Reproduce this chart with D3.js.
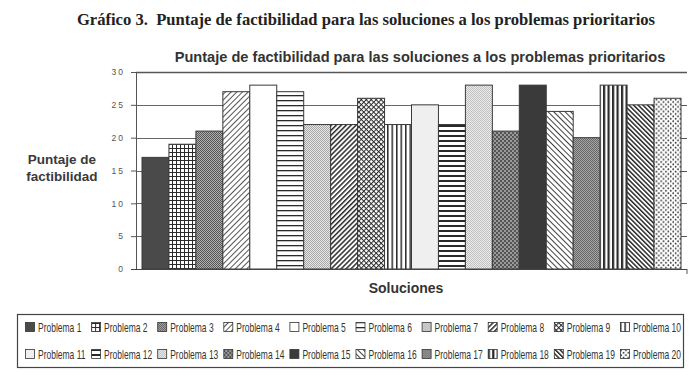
<!DOCTYPE html>
<html>
<head>
<meta charset="utf-8">
<script src="https://cdn.jsdelivr.net/npm/d3@7"></script>
<style>
  body { margin: 0; background: #fff; }
  svg { display: block; }
</style>
</head>
<body>
<svg id="chart" width="697" height="379"></svg>
<script>
const problemas = [
  "Problema 1", "Problema 2", "Problema 3", "Problema 4", "Problema 5",
  "Problema 6", "Problema 7", "Problema 8", "Problema 9", "Problema 10",
  "Problema 11", "Problema 12", "Problema 13", "Problema 14", "Problema 15",
  "Problema 16", "Problema 17", "Problema 18", "Problema 19", "Problema 20",
];
const puntajes = [17, 19, 21, 27, 28, 27, 22, 22, 26, 22, 25, 22, 28, 21, 28, 24, 20, 28, 25, 26];
const yTicks = [0, 5, 10, 15, 20, 25, 30];

const titulo = "Gráfico 3.  Puntaje de factibilidad para las soluciones a los problemas prioritarios";
const subtitulo = "Puntaje de factibilidad para las soluciones a los problemas prioritarios";
const ejeY = ["Puntaje de", "factibilidad"];
const ejeX = "Soluciones";

const svg = d3.select("#chart");
const defs = svg.append("defs");
const ink = "#2a2a2a";

// fill patterns, one per problem (index order)
function pattern(id, w, h, bg, rot) {
  const p = defs.append("pattern")
    .attr("id", id)
    .attr("patternUnits", "userSpaceOnUse")
    .attr("width", w)
    .attr("height", h);
  if (rot) p.attr("patternTransform", `rotate(${rot})`);
  p.append("rect").attr("width", w).attr("height", h).attr("fill", bg);
  return p;
}
function solid(id, c) {
  pattern(id, 4, 4, c);
}
function checker(id, size, a, b) {
  const p = pattern(id, size * 2, size * 2, b);
  p.append("rect").attr("width", size).attr("height", size).attr("fill", a);
  p.append("rect").attr("x", size).attr("y", size).attr("width", size).attr("height", size).attr("fill", a);
}
function lines(id, gap, width, rot) {
  // vertical stripes, rotated as needed
  const p = pattern(id, gap, gap, "#fff", rot);
  p.append("rect").attr("width", width).attr("height", gap).attr("fill", ink);
}
function hlines(id, gap, width) {
  const p = pattern(id, gap, gap, "#fff");
  p.append("rect").attr("width", gap).attr("height", width).attr("fill", ink);
}
function grid(id, gap, width, rot) {
  const p = pattern(id, gap, gap, "#fff", rot);
  p.append("rect").attr("width", width).attr("height", gap).attr("fill", ink);
  p.append("rect").attr("width", gap).attr("height", width).attr("fill", ink);
}
function dots(id, gap, r) {
  const p = pattern(id, gap * 2, gap * 2, "#fff");
  p.append("circle").attr("cx", gap / 2).attr("cy", gap / 2).attr("r", r).attr("fill", ink);
  p.append("circle").attr("cx", gap * 1.5).attr("cy", gap * 1.5).attr("r", r).attr("fill", ink);
}

solid("p1", "#4a4a4a");
grid("p2", 4, 1, 0);
checker("p3", 1, "#555", "#b0b0b0");
lines("p4", 4, 0.8, 45);
solid("p5", "#ffffff");
hlines("p6", 5, 1.3);
checker("p7", 1, "#a8a8a8", "#e6e6e6");
lines("p8", 3.5, 1.5, 45);
grid("p9", 3.5, 1, 45);
lines("p10", 4.5, 1.5, 0);
solid("p11", "#efefef");
hlines("p12", 5, 2);
checker("p13", 1, "#c0c0c0", "#ececec");
checker("p14", 2, "#555", "#9a9a9a");
solid("p15", "#3a3a3a");
lines("p16", 4, 0.9, -45);
checker("p17", 1, "#666", "#a6a6a6");
lines("p18", 4.5, 2.2, 0);
lines("p19", 3.3, 1.5, -45);
dots("p20", 2.4, 0.85);

const fillOf = (i) => `url(#p${i + 1})`;

// scales
const x = d3.scaleBand().domain(problemas).range([142, 681]).padding(0);
const y = d3.scaleLinear().domain([0, 30]).range([269, 72]);
const axisX = 136;
const rightEnd = 687;

// titles
svg.append("text")
  .attr("x", 366).attr("y", 25)
  .attr("text-anchor", "middle")
  .attr("font-family", "Liberation Serif, Times New Roman, serif")
  .attr("font-weight", "bold")
  .attr("font-size", 16.6)
  .attr("fill", "#222")
  .attr("xml:space", "preserve")
  .text(titulo);

svg.append("text")
  .attr("x", 420).attr("y", 62)
  .attr("text-anchor", "middle")
  .attr("font-family", "Liberation Sans, Arial, sans-serif")
  .attr("font-weight", "bold")
  .attr("font-size", 14.6)
  .attr("fill", "#333")
  .text(subtitulo);

// grid lines
svg.append("g")
  .selectAll("line")
  .data(yTicks.filter((d) => d > 0))
  .join("line")
  .attr("x1", axisX).attr("x2", rightEnd)
  .attr("y1", (d) => Math.round(y(d)) + 0.5)
  .attr("y2", (d) => Math.round(y(d)) + 0.5)
  .attr("stroke", (d) => (d === 30 ? "#555" : "#666"))
  .attr("stroke-width", (d) => (d === 30 ? 1.3 : 1));

// bars
svg.append("g")
  .selectAll("rect")
  .data(puntajes)
  .join("rect")
  .attr("x", (d, i) => x(problemas[i]))
  .attr("y", (d) => y(d))
  .attr("width", x.bandwidth())
  .attr("height", (d) => y(0) - y(d))
  .attr("fill", (d, i) => fillOf(i))
  .attr("stroke", "#3a3a3a")
  .attr("stroke-width", 1);

// left axis
const gy = svg.append("g")
  .attr("transform", `translate(${axisX},0)`)
  .call(d3.axisLeft(y).tickValues(yTicks).tickSize(5).tickSizeOuter(0).tickPadding(6));
gy.select(".domain").attr("stroke", "#555");
gy.selectAll(".tick line").attr("stroke", "#555");
gy.selectAll(".tick text")
  .attr("font-family", "Liberation Sans, Arial, sans-serif")
  .attr("font-size", 8.5)
  .attr("fill", "#555")
  .attr("letter-spacing", "2px");

// right side ticks
svg.append("g")
  .selectAll("line")
  .data(yTicks.filter((d) => d > 0 && d < 30))
  .join("line")
  .attr("x1", 681).attr("x2", rightEnd)
  .attr("y1", (d) => Math.round(y(d)) + 0.5)
  .attr("y2", (d) => Math.round(y(d)) + 0.5)
  .attr("stroke", "#555");

// bottom axis line
svg.append("line")
  .attr("x1", axisX - 5).attr("x2", rightEnd)
  .attr("y1", y(0) + 0.5).attr("y2", y(0) + 0.5)
  .attr("stroke", "#444").attr("stroke-width", 1.2);
svg.append("line")
  .attr("x1", rightEnd).attr("x2", rightEnd)
  .attr("y1", y(0)).attr("y2", y(0) + 5)
  .attr("stroke", "#555");

// axis titles
svg.append("text")
  .attr("x", 62).attr("y", 164)
  .attr("text-anchor", "middle")
  .attr("font-family", "Liberation Sans, Arial, sans-serif")
  .attr("font-weight", "bold")
  .attr("font-size", 13.5)
  .attr("fill", "#3a3a3a")
  .selectAll("tspan")
  .data(ejeY)
  .join("tspan")
  .attr("x", 62)
  .attr("dy", (d, i) => (i === 0 ? 0 : 17))
  .text((d) => d);

svg.append("text")
  .attr("x", 406).attr("y", 293)
  .attr("text-anchor", "middle")
  .attr("font-family", "Liberation Sans, Arial, sans-serif")
  .attr("font-weight", "bold")
  .attr("font-size", 14)
  .attr("fill", "#333")
  .text(ejeX);

// legend
svg.append("rect")
  .attr("x", 17.5).attr("y", 314.5)
  .attr("width", 666).attr("height", 53)
  .attr("fill", "none")
  .attr("stroke", "#444")
  .attr("stroke-width", 1.2);

const col = d3.scaleBand().domain(d3.range(10)).range([25, 686]);
const row = d3.scalePoint().domain([0, 1]).range([327, 354]);

const items = svg.append("g")
  .selectAll("g")
  .data(problemas)
  .join("g")
  .attr("transform", (d, i) => `translate(${col(i % 10)},${row(Math.floor(i / 10))})`);

items.append("rect")
  .attr("x", 0.5).attr("y", -4.5)
  .attr("width", 9).attr("height", 9)
  .attr("fill", (d, i) => fillOf(i))
  .attr("stroke", "#333")
  .attr("stroke-width", 0.8);

// condensed label: squeeze the sans face horizontally
items.append("text")
  .attr("transform", "translate(13,0.5) scale(0.68,1)")
  .attr("dominant-baseline", "central")
  .attr("font-family", "Liberation Sans, Arial, sans-serif")
  .attr("font-size", 12.5)
  .attr("fill", "#333")
  .text((d) => d);
</script>
</body>
</html>
